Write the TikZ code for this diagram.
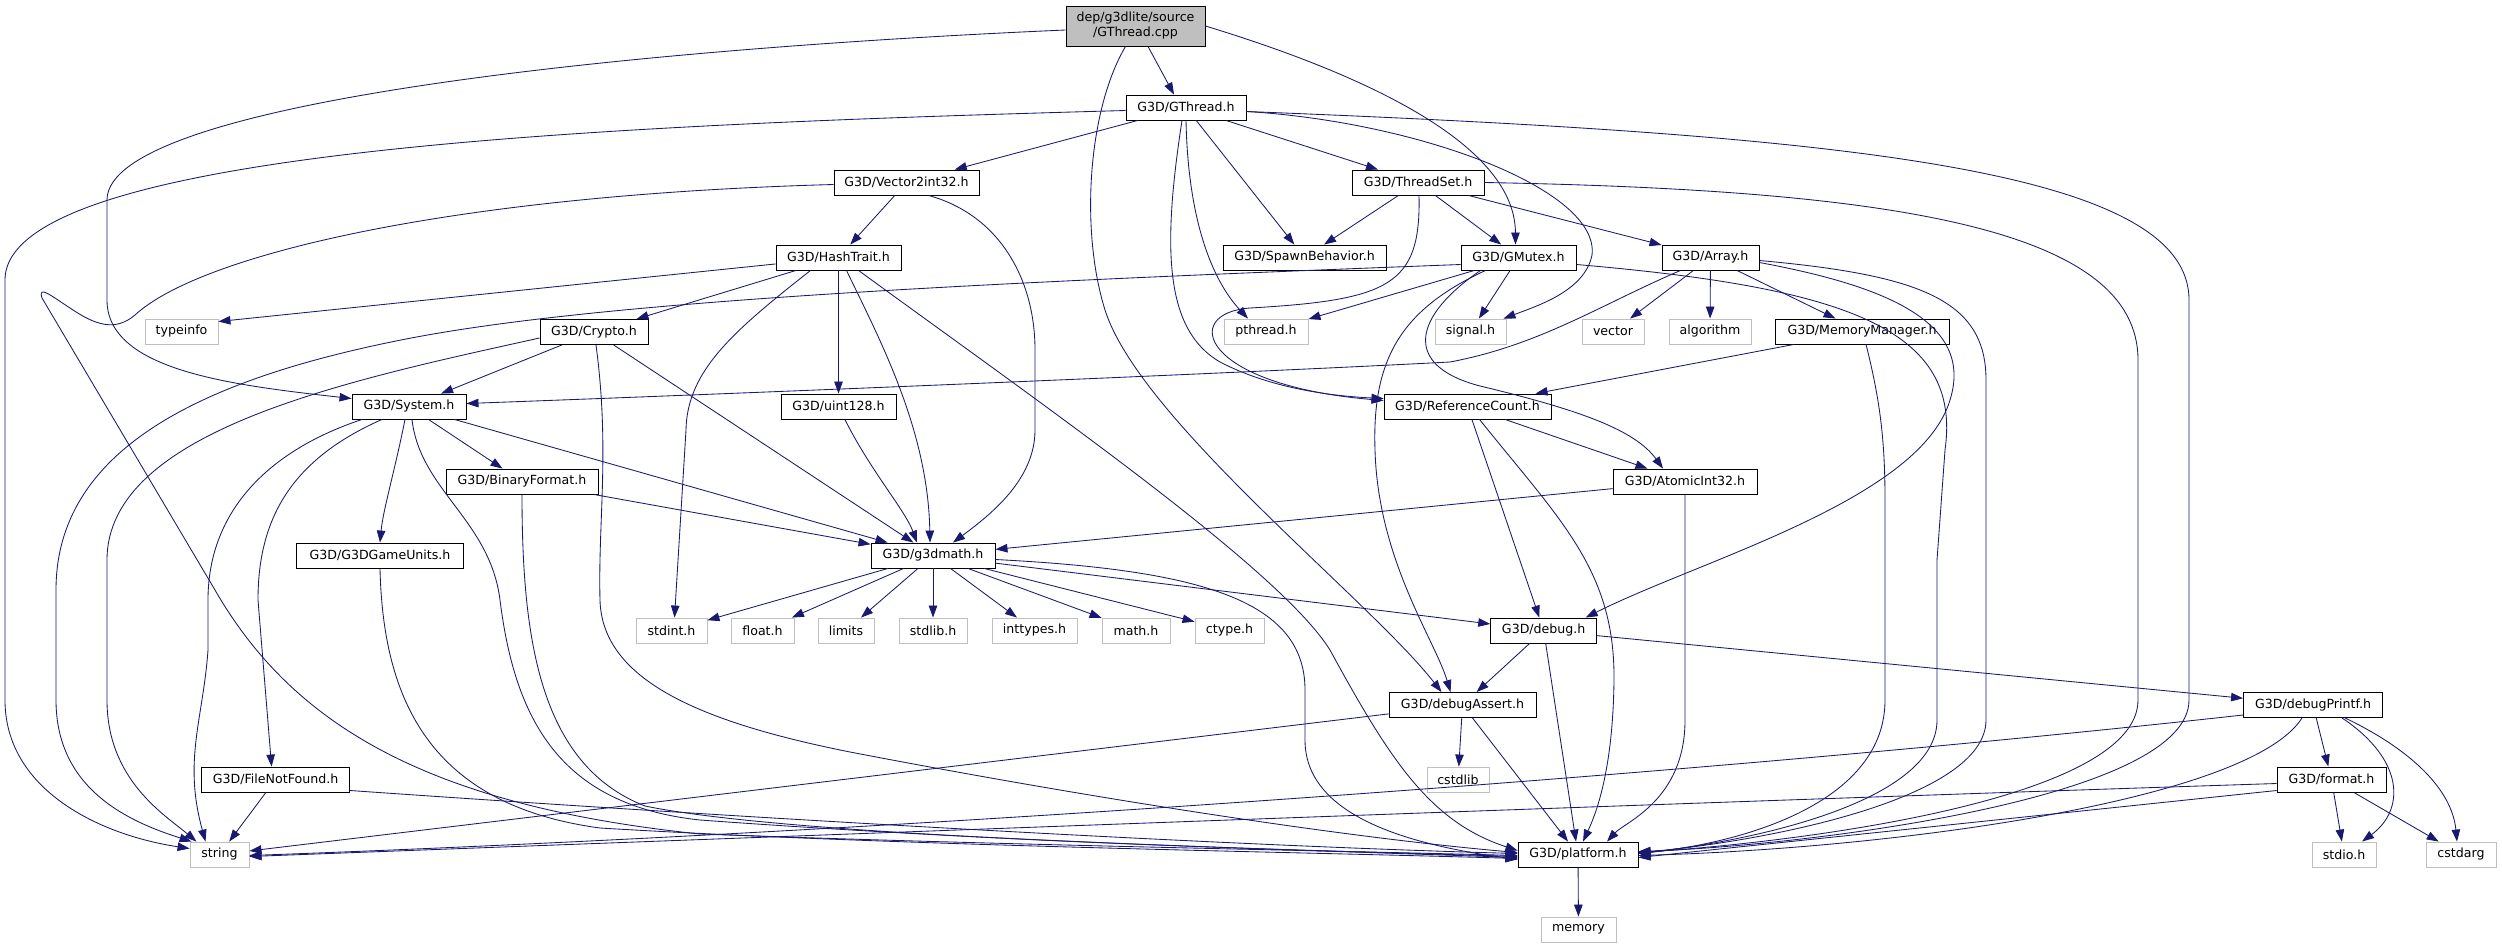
\documentclass[tikz,border=0pt]{standalone}
\usepackage{fontspec}
\setmainfont{DejaVu Sans}
\usetikzlibrary{arrows.meta}
\definecolor{edgeblue}{HTML}{191970}
\definecolor{extgray}{HTML}{BFBFBF}
\newcommand{\nodefnt}{\fontsize{12.6}{15}\selectfont}
\begin{document}
\begin{tikzpicture}[x=1pt,y=-1pt,
  hdr/.style={draw=black, fill=white, line width=0.9pt, inner sep=0pt, minimum height=25pt, font=\nodefnt, align=center},
  ext/.style={hdr, draw=extgray},
  srcbox/.style={hdr, fill=extgray, minimum height=40pt},
  dep/.style={draw=edgeblue, line width=0.85pt, -{Triangle[length=12pt,width=8.5pt]}}
]
\useasboundingbox (0,0) rectangle (2502,948);
\fill[white] (0,0) rectangle (2502,948);
% nodes
\node[srcbox, minimum width=139pt] (src) at (1135.5,26) {dep/g3dlite/source\\/GThread.cpp};
\node[hdr, minimum width=120pt] (gthread) at (1186,107.5) {G3D/GThread.h};
\node[hdr, minimum width=145pt] (vec) at (906.5,182.5) {G3D/Vector2int32.h};
\node[hdr, minimum width=132pt] (tset) at (1418,182.5) {G3D/ThreadSet.h};
\node[hdr, minimum width=125pt] (hash) at (838.5,257.5) {G3D/HashTrait.h};
\node[hdr, minimum width=163pt] (spawn) at (1304.5,257.5) {G3D/SpawnBehavior.h};
\node[hdr, minimum width=115pt] (gmutex) at (1518.5,257.5) {G3D/GMutex.h};
\node[hdr, minimum width=97pt] (array) at (1710.5,257.5) {G3D/Array.h};
\node[ext, minimum width=73pt] (typeinfo) at (181.5,331.5) {typeinfo};
\node[hdr, minimum width=108pt] (crypto) at (594,332) {G3D/Crypto.h};
\node[ext, minimum width=84pt] (pthread) at (1266,331.5) {pthread.h};
\node[ext, minimum width=71pt] (signal) at (1470.5,331.5) {signal.h};
\node[ext, minimum width=62pt] (vector) at (1613,331.5) {vector};
\node[ext, minimum width=82pt] (algorithm) at (1710,331.5) {algorithm};
\node[hdr, minimum width=174pt] (memmgr) at (1862,331.5) {G3D/MemoryManager.h};
\node[hdr, minimum width=114pt] (system) at (409,406.5) {G3D/System.h};
\node[hdr, minimum width=115pt] (uint128) at (838.5,406.5) {G3D/uint128.h};
\node[hdr, minimum width=167pt] (refcount) at (1467.5,406.5) {G3D/ReferenceCount.h};
\node[hdr, minimum width=152pt] (binfmt) at (522,481.5) {G3D/BinaryFormat.h};
\node[hdr, minimum width=144pt] (atomic) at (1685,481.5) {G3D/AtomicInt32.h};
\node[hdr, minimum width=167pt] (gameunits) at (380,555.5) {G3D/G3DGameUnits.h};
\node[hdr, minimum width=124pt] (g3dmath) at (933,555.5) {G3D/g3dmath.h};
\node[ext, minimum width=71pt] (stdint) at (671.5,630.5) {stdint.h};
\node[ext, minimum width=63pt] (floath) at (762.5,630.5) {float.h};
\node[ext, minimum width=56pt] (limits) at (846,630.5) {limits};
\node[ext, minimum width=68pt] (stdlib) at (933,630.5) {stdlib.h};
\node[ext, minimum width=85pt] (inttypes) at (1034.5,630.5) {inttypes.h};
\node[ext, minimum width=68pt] (mathh) at (1136,630.5) {math.h};
\node[ext, minimum width=69pt] (ctype) at (1229.5,630.5) {ctype.h};
\node[hdr, minimum width=106pt] (debug) at (1543.7,630.5) {G3D/debug.h};
\node[hdr, minimum width=147pt] (dassert) at (1462.5,705) {G3D/debugAssert.h};
\node[hdr, minimum width=139pt] (dprintf) at (2313,705) {G3D/debugPrintf.h};
\node[ext, minimum width=62pt] (cstdlib) at (1458,779.5) {cstdlib};
\node[hdr, minimum width=148pt] (fnf) at (275.6,779.5) {G3D/FileNotFound.h};
\node[hdr, minimum width=109pt] (format) at (2331.5,779.5) {G3D/format.h};
\node[ext, minimum width=59pt] (string) at (219.5,854.5) {string};
\node[hdr, minimum width=120pt] (platform) at (1578,854.5) {G3D/platform.h};
\node[ext, minimum width=64pt] (stdio) at (2344,854.5) {stdio.h};
\node[ext, minimum width=70pt] (cstdarg) at (2461,854.5) {cstdarg};
\node[ext, minimum width=75pt] (memory) at (1578.5,929.5) {memory};
% edges from src
\draw[dep] ([xshift=12.5pt]src.south) -- ([xshift=-12pt]gthread.north);
\draw[dep] ([yshift=-4pt]src.west) .. controls (650,48) and (107,100) .. (107,200) -- (107,300) .. controls (107,370) and (230,385) .. ([yshift=8pt]system.west);
\draw[dep] (src.east) .. controls (1350,70) and (1515,140) .. ([xshift=-3pt]gmutex.north);
\draw[dep] ([xshift=-10pt]src.south) .. controls (1088,110) and (1080,230) .. (1105,310) .. controls (1140,420) and (1370,600) .. ([xshift=-21pt]dassert.north);
% gthread
\draw[dep] ([yshift=-3pt]gthread.west) .. controls (600,125) and (5,150) .. (5,280) -- (5,700) .. controls (5,790) and (100,835) .. ([yshift=6pt]string.west);
\draw[dep] (gthread) -- (vec);
\draw[dep] (gthread) -- (tset);
\draw[dep] (gthread) -- (spawn);
\draw[dep] (gthread.south) .. controls (1188,220) and (1212,280) .. ([xshift=-18pt]pthread.north);
\draw[dep] ([xshift=-4pt]gthread.south) .. controls (1162,250) and (1165,330) .. (1220,362) .. controls (1270,388) and (1330,396) .. ([yshift=8pt]refcount.west);
\draw[dep] ([yshift=-4pt]gthread.east) .. controls (1420,122) and (1600,190) .. (1592,255) .. controls (1585,290) and (1540,305) .. ([xshift=-3pt]signal.north east);
\draw[dep] ([yshift=-4pt]gthread.east) .. controls (1850,135) and (2189,170) .. (2189,300) -- (2189,700) .. controls (2189,800) and (1800,846) .. ([yshift=3pt]platform.east);
% tset
\draw[dep] (tset) -- (spawn);
\draw[dep] (tset) -- (gmutex);
\draw[dep] (tset) -- (array);
\draw[dep] ([xshift=1pt]tset.south) .. controls (1421,285) and (1390,300) .. (1250,308) .. controls (1180,313) and (1200,385) .. ([yshift=6pt]refcount.west);
\draw[dep] (tset.east) .. controls (1900,190) and (2138,230) .. (2138,360) -- (2138,700) .. controls (2138,800) and (1800,842) .. ([yshift=2pt]platform.east);
% vec
\draw[dep] (vec) -- (hash);
\draw[dep] ([xshift=22pt]vec.south) .. controls (1000,215) and (1035,280) .. (1035,350) -- (1035,430) .. controls (1035,480) and (990,515) .. ([xshift=20pt]g3dmath.north);
\draw[dep] ([yshift=-2pt]vec.west) .. controls (450,195) and (200,255) .. (135,315) .. controls (115,332) and (95,325) .. (70,308) .. controls (50,295) and (38,285) .. (42,298) -- (215,590) .. controls (290,720) and (420,805) .. (700,834) .. controls (1000,845) and (1300,850) .. ([yshift=-1pt]platform.west);
% hash
\draw[dep] (hash) -- ([yshift=10pt]typeinfo.east);
\draw[dep] (hash) -- (crypto);
\draw[dep] (hash) -- (uint128);
\draw[dep] ([xshift=-28pt]hash.south) .. controls (735,330) and (687,370) .. (686,430) -- ([xshift=3pt]stdint.north);
\draw[dep] ([xshift=8pt]hash.south) .. controls (880,340) and (928,430) .. ([xshift=-3pt]g3dmath.north);
\draw[dep] ([xshift=20pt]hash.south) .. controls (1050,410) and (1280,570) .. (1330,650) .. controls (1390,760) and (1430,822) .. ([yshift=4pt]platform.west);
% crypto
\draw[dep] (crypto) -- (system);
\draw[dep] (crypto) -- (g3dmath);
\draw[dep] ([yshift=-6pt]crypto.west) .. controls (350,380) and (107,430) .. (107,560) -- (107,700) .. controls (107,780) and (165,815) .. ([xshift=-23pt]string.north);
\draw[dep] ([xshift=2pt]crypto.south) .. controls (610,450) and (598,520) .. (600,600) .. controls (602,680) and (700,722) .. (850,752) .. controls (1100,800) and (1350,838) .. ([yshift=2pt]platform.west);
% system
\draw[dep] ([xshift=-47pt]system.south) .. controls (270,450) and (208,510) .. (208,600) -- (208,650) .. controls (203,720) and (183,760) .. ([xshift=-14pt]string.north);
\draw[dep] ([xshift=-27pt]system.south) .. controls (290,460) and (258,520) .. (258,600) -- ([xshift=-4pt]fnf.north);
\draw[dep] ([xshift=-4pt]system.south) .. controls (395,470) and (383,510) .. (gameunits.north);
\draw[dep] (system) -- (binfmt);
\draw[dep] (system) -- (g3dmath);
\draw[dep] ([xshift=3pt]system.south) .. controls (420,490) and (490,520) .. (500,600) .. controls (515,720) and (560,805) .. (700,820) .. controls (1000,842) and (1300,850) .. ([yshift=-3pt]platform.west);
% uint128
\draw[dep] (uint128) .. controls (870,470) and (905,510) .. ([xshift=-16pt]g3dmath.north);
% binfmt
\draw[dep] (binfmt) -- (g3dmath);
\draw[dep] (binfmt.south) .. controls (522,640) and (540,765) .. (645,806) .. controls (800,838) and (1300,850) .. ([yshift=-2pt]platform.west);
% gameunits
\draw[dep] (gameunits.south) .. controls (383,700) and (430,805) .. (600,828) .. controls (900,846) and (1300,852) .. ([yshift=-4pt]platform.west);
% fnf
\draw[dep] (fnf) -- (string);
\draw[dep] ([yshift=-11pt]fnf.east) .. controls (700,815) and (1200,845) .. ([yshift=1pt]platform.west);
% g3dmath
\draw[dep] (g3dmath) -- (stdint);
\draw[dep] (g3dmath) -- (floath);
\draw[dep] (g3dmath) -- (limits);
\draw[dep] (g3dmath) -- (stdlib);
\draw[dep] (g3dmath) -- (inttypes);
\draw[dep] (g3dmath) -- (mathh);
\draw[dep] (g3dmath) -- (ctype);
\draw[dep] (g3dmath) -- (debug);
\draw[dep] ([yshift=-4pt]g3dmath.east) .. controls (1200,570) and (1305,600) .. (1305,690) -- (1305,740) .. controls (1305,820) and (1420,846) .. ([yshift=-5pt]platform.west);
% debug
\draw[dep] (debug) -- (dassert);
\draw[dep] (debug) -- (platform);
\draw[dep] (debug) -- (dprintf);
% dassert
\draw[dep] (dassert) -- (cstdlib);
\draw[dep] (dassert) -- (platform);
\draw[dep] (dassert) -- (string);
% dprintf
\draw[dep] (dprintf) -- (format);
\draw[dep] ([yshift=-10pt]dprintf.west) .. controls (1700,775) and (900,832) .. ([yshift=-1pt]string.east);
\draw[dep] ([xshift=-11pt]dprintf.south) .. controls (2250,800) and (1900,848) .. ([yshift=-1pt]platform.east);
\draw[dep] ([xshift=29pt]dprintf.south) .. controls (2405,760) and (2405,810) .. ([xshift=18pt]stdio.north);
\draw[dep] ([xshift=32pt]dprintf.south) .. controls (2412,750) and (2452,790) .. ([xshift=-4pt]cstdarg.north);
% format
\draw[dep] ([yshift=-4pt]format.west) .. controls (1700,802) and (900,832) .. ([yshift=-2pt]string.east);
\draw[dep] ([yshift=-11pt]format.west) -- ([yshift=-3pt]platform.east);
\draw[dep] (format) -- (stdio);
\draw[dep] (format) -- (cstdarg);
% platform
\draw[dep] (platform) -- (memory);
% gmutex
\draw[dep] ([yshift=-7pt]gmutex.west) .. controls (1000,282) and (600,300) .. (401,340) .. controls (200,380) and (56,450) .. (56,590) -- (56,700) .. controls (56,790) and (130,822) .. ([xshift=2pt]string.north west);
\draw[dep] (gmutex) -- (pthread);
\draw[dep] (gmutex) -- (signal);
\draw[dep] ([xshift=-33pt]gmutex.south) .. controls (1400,310) and (1372,360) .. (1375,450) .. controls (1378,560) and (1435,640) .. ([xshift=-12pt]dassert.north);
\draw[dep] ([xshift=-38pt]gmutex.south) .. controls (1415,315) and (1400,365) .. (1480,386) .. controls (1580,410) and (1635,430) .. ([xshift=-22pt]atomic.north);
\draw[dep] ([yshift=-7pt]gmutex.east) .. controls (1850,288) and (1962,330) .. (1945,450) -- (1937,560) -- (1937,720) .. controls (1937,800) and (1760,840) .. ([yshift=1pt]platform.east);
% array
\draw[dep] (array) -- (vector);
\draw[dep] (array) -- (algorithm);
\draw[dep] (array) -- (memmgr);
\draw[dep] ([xshift=-30pt]array.south) .. controls (1600,305) and (1540,345) .. (1450,362) .. controls (1200,375) and (700,395) .. ([yshift=3pt]system.east);
\draw[dep] ([yshift=-5pt]array.east) .. controls (1880,285) and (1975,320) .. (1950,400) .. controls (1920,500) and (1700,560) .. ([xshift=42pt]debug.north);
\draw[dep] ([yshift=-3pt]array.east) .. controls (1920,275) and (1986,300) .. (1986,380) -- (1986,720) .. controls (1986,800) and (1760,842) .. ([yshift=2pt]platform.east);
% memmgr
\draw[dep] (memmgr) -- (refcount);
\draw[dep] ([xshift=4pt]memmgr.south) .. controls (1880,400) and (1885,440) .. (1885,500) -- (1885,700) .. controls (1885,800) and (1750,842) .. ([yshift=1pt]platform.east);
% refcount
\draw[dep] (refcount) -- (atomic);
\draw[dep] (refcount) -- (debug);
\draw[dep] ([xshift=12pt]refcount.south) .. controls (1560,520) and (1615,570) .. (1614,680) .. controls (1613,760) and (1600,805) .. ([xshift=5pt]platform.north);
% atomic
\draw[dep] (atomic) -- (g3dmath);
\draw[dep] (atomic.south) -- (1685,720) .. controls (1685,800) and (1625,822) .. ([xshift=29pt]platform.north);
\end{tikzpicture}
\end{document}
